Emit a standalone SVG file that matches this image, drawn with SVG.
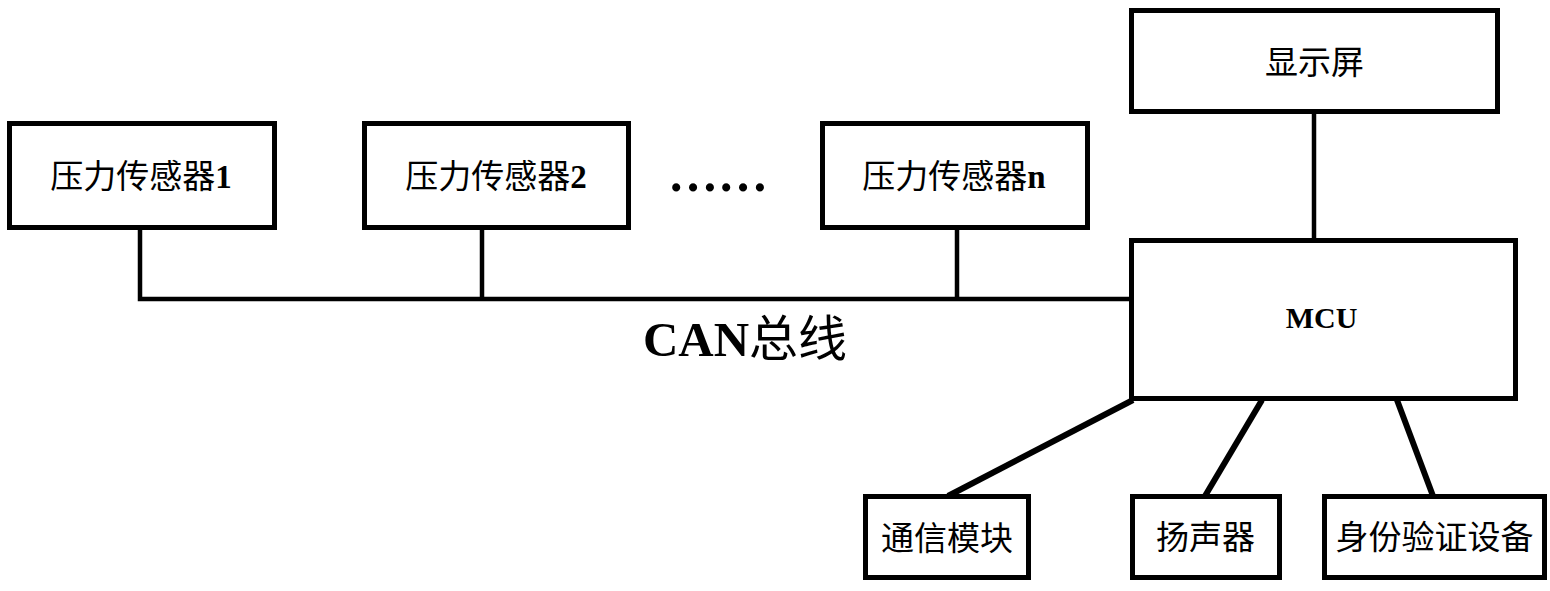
<svg xmlns="http://www.w3.org/2000/svg" width="1550" height="591" viewBox="0 0 1550 591">
<style>
.box{fill:#fff;stroke:#000;stroke-width:5}
.cn{font-family:"Noto Sans CJK SC","Liberation Serif",sans-serif;font-size:33px;fill:#000;text-anchor:middle}
.lat{font-family:"Liberation Serif",serif;font-weight:bold}
.wire{fill:none;stroke:#000;stroke-width:4.5;stroke-linejoin:miter}
.diag{fill:none;stroke:#000;stroke-width:6}
</style>
<rect width="1550" height="591" fill="#fff"/>
<g id="connectors">
<path class="wire" d="M140,230 V299 H1131"/>
<path class="wire" d="M482,230 V299"/>
<path class="wire" d="M957,230 V299"/>
<path class="wire" d="M1314,113 V239"/>
<path class="diag" d="M1133,400 L948,496"/>
<path class="diag" d="M1262,400 L1205,496"/>
<path class="diag" d="M1397,400 L1433,496"/>
</g>
<g id="sensor1">
<rect class="box" x="9.5" y="123.5" width="265" height="104"/>
<text class="cn" x="141" y="187.5">压力传感器<tspan class="lat">1</tspan></text>
</g>
<g id="sensor2">
<rect class="box" x="364.5" y="123.5" width="264" height="104"/>
<text class="cn" x="496" y="187.5">压力传感器<tspan class="lat">2</tspan></text>
</g>
<g id="ellipsis">
<text x="668" y="191" style="font-family:'Liberation Serif',serif;font-weight:bold;font-size:50px;fill:#000">……</text>
</g>
<g id="sensorN">
<rect class="box" x="822.5" y="123.5" width="265" height="104"/>
<text class="cn" x="954" y="187.5">压力传感器<tspan class="lat">n</tspan></text>
</g>
<g id="display">
<rect class="box" x="1131.5" y="10.5" width="366" height="101"/>
<text class="cn" x="1314.5" y="73.5">显示屏</text>
</g>
<g id="mcu">
<rect class="box" x="1131.5" y="240.5" width="384" height="158"/>
<text x="1321.5" y="328" style="font-family:'Liberation Serif',serif;font-weight:bold;font-size:30px;fill:#000;text-anchor:middle">MCU</text>
</g>
<g id="can-label">
<text x="745" y="356" style="font-family:'Noto Sans CJK SC',sans-serif;font-size:49px;fill:#000;text-anchor:middle"><tspan class="lat">CAN</tspan>总线</text>
</g>
<g id="comm">
<rect class="box" x="865.5" y="496.5" width="163" height="81"/>
<text class="cn" x="947" y="550">通信模块</text>
</g>
<g id="speaker">
<rect class="box" x="1132.5" y="496.5" width="147" height="81"/>
<text class="cn" x="1205.5" y="549">扬声器</text>
</g>
<g id="auth">
<rect class="box" x="1324.5" y="496.5" width="220" height="81"/>
<text class="cn" x="1434.5" y="549">身份验证设备</text>
</g>
</svg>
